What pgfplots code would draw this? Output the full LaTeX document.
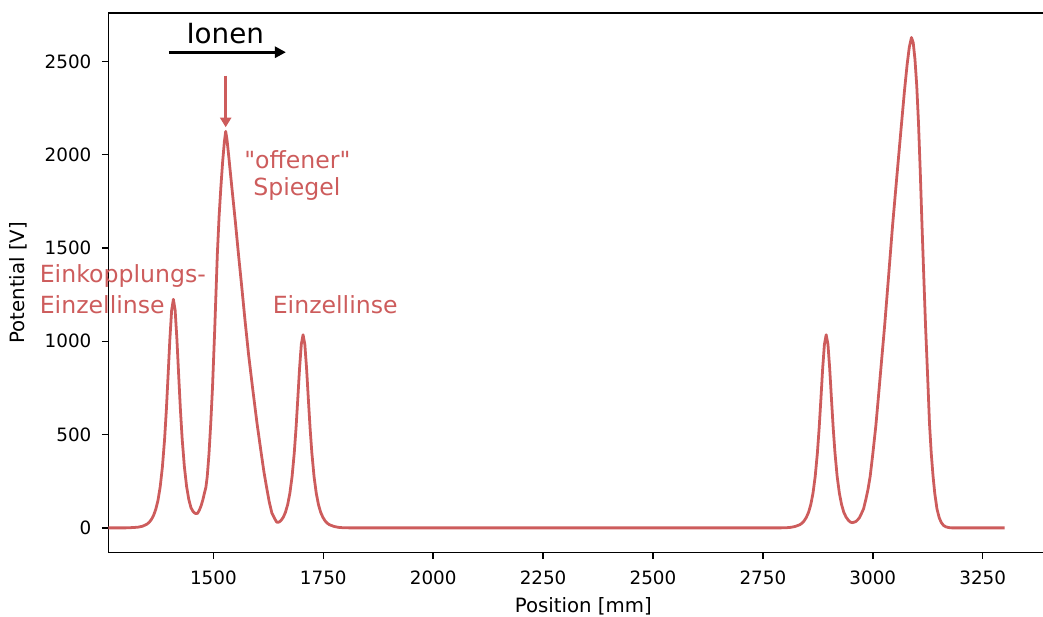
\documentclass[border=0pt]{standalone}
\usepackage{fontspec}
\setmainfont{DejaVu Sans}
\newfontfamily\labelfont{DejaVu Sans}
\usepackage{pgfplots}
\pgfplotsset{compat=1.18}
\usetikzlibrary{arrows.meta}
\definecolor{indianred}{HTML}{CD5C5C}

% Potential along the beam axis (position in mm, potential in V)
\pgfplotstableread{
x y
1261 0
1300 0
1319 2
1329 4
1339 9
1349 20
1354 30
1359 45
1364 67
1369 100
1374 148
1379 220
1384 326
1389 475
1393 632
1397 819
1401 1011
1405 1165
1409 1225
1413 1166
1417 1012
1421 820
1425 633
1429 476
1434 328
1439 223
1444 153
1449 108
1454 87
1459 77
1464 78
1468 95
1472 118
1476 150
1480 190
1483 218
1486 275
1490 397
1494 560
1498 753
1503 1060
1509 1468
1513 1670
1517 1825
1521 1960
1525 2070
1528 2125
1531 2080
1535 1990
1542 1825
1550 1640
1557 1468
1565 1280
1572 1111
1580 930
1589 753
1599 565
1609 397
1615 300
1621 218
1627 140
1633 80
1638 56
1641 43
1644 31
1647 30
1650 32
1654 40
1659 57
1664 84
1669 125
1674 186
1679 275
1684 402
1688 534
1692 691
1696 854
1700 984
1704 1035
1708 984
1712 854
1716 691
1720 534
1724 402
1729 275
1734 186
1739 125
1744 84
1749 57
1754 38
1759 25
1764 17
1774 8
1784 3
1794 1
1810 0
2790 0
2804 1
2814 3
2824 8
2834 17
2839 25
2844 38
2849 57
2854 84
2859 125
2864 186
2869 275
2874 402
2878 534
2882 691
2886 854
2890 984
2894 1035
2898 984
2902 854
2906 691
2910 534
2914 402
2919 275
2924 186
2929 125
2934 84
2939 59
2944 42
2949 31
2954 28
2958 31
2962 35
2966 44
2970 56
2975 81
2979 102
2984 150
2989 205
2994 275
3000 395
3007 548
3012 680
3017 815
3022 950
3027 1084
3036 1350
3045 1620
3055 1890
3065 2156
3072 2340
3078 2480
3083 2575
3088 2628
3092 2600
3096 2510
3100 2370
3104 2170
3108 1910
3112 1620
3116 1350
3120 1084
3125 800
3129 560
3133 400
3137 280
3141 185
3146 102
3151 55
3156 28
3161 13
3166 6
3172 2
3180 0
3300 0
}\potential

\begin{document}
\begin{tikzpicture}
\useasboundingbox (-78pt,-45.9pt) rectangle (673pt,397.7pt);
\begin{axis}[
  scale only axis,
  width=684pt, height=388.3pt,
  xmin=1261, xmax=3422,
  ymin=-131, ymax=2759,
  xtick={1500,1750,...,3250},
  ytick={0,500,...,2500},
  axis line style={line width=1.05pt},
  tick style={line width=1.05pt, black},
  major tick length=4.6pt,
  tick align=outside,
  xtick pos=bottom, ytick pos=left,
  /pgf/number format/1000 sep={},
  /pgf/number format/assume math mode=true,
  tick label style={font=\fontsize{13.2}{15}\selectfont},
  xticklabel style={anchor=north, inner sep=0pt, yshift=-8.8pt},
  yticklabel style={anchor=east, inner sep=0pt, xshift=-7.4pt},
  xlabel={Position [mm]},
  ylabel={Potential [V]},
  every axis x label/.style={at={(axis description cs:0.5,-0.1)}, anchor=center,
    font=\fontsize{14.2}{17}\selectfont},
  every axis y label/.style={at={(axis description cs:-0.0951,0.5)}, rotate=90, anchor=center,
    font=\fontsize{14.2}{17}\selectfont},
  clip=false,
]
\addplot[color=indianred, line width=2pt, line join=round] table[x=x, y=y] {\potential};

\node[anchor=base west, text=indianred, font=\labelfont\fontsize{17}{20}\selectfont] at (axis cs:1094,1316) {Einkopplungs-};
\node[anchor=base west, text=indianred, font=\labelfont\fontsize{17}{20}\selectfont] at (axis cs:1094,1147) {Einzellinse};
\node[anchor=base west, text=indianred, font=\labelfont\fontsize{17}{20}\selectfont] at (axis cs:1624,1147) {Einzellinse};
\node[anchor=base, text=indianred, font=\labelfont\fontsize{17}{20}\selectfont] at (axis cs:1691,1924) {"offener"};
\node[anchor=base, text=indianred, font=\labelfont\fontsize{17}{20}\selectfont] at (axis cs:1690,1781) {Spiegel};

\node[anchor=base, font=\labelfont\fontsize{20}{24}\selectfont] at (axis cs:1527,2594) {Ionen};
\draw[black, line width=2pt, -{Triangle[length=8pt,width=8pt]}] (axis cs:1399,2549) -- (axis cs:1665,2549);
\draw[indianred, line width=2pt, -{Triangle[length=7pt,width=8pt]}] (axis cs:1528,2424) -- (axis cs:1528,2147);
\end{axis}
\end{tikzpicture}
\end{document}
